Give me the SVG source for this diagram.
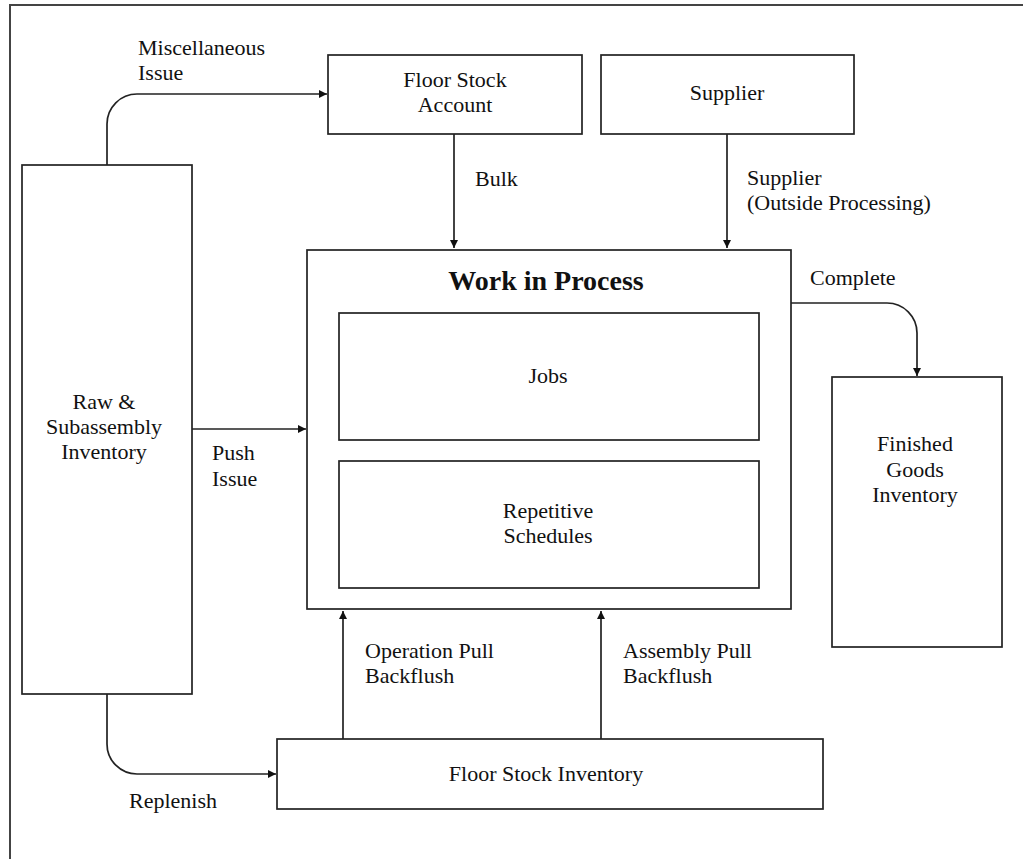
<svg xmlns="http://www.w3.org/2000/svg" width="1023" height="859" viewBox="0 0 1023 859">
<style>
.box{fill:#fff;stroke:#222;stroke-width:1.7}
.t{font-family:"Liberation Serif","Times New Roman",serif;font-size:22px;fill:#111}
.c{text-anchor:middle}
.b{font-weight:bold;font-size:28px}
.ln{fill:none;stroke:#222;stroke-width:1.7}
</style>
<defs>
<marker id="ah" markerUnits="userSpaceOnUse" markerWidth="9" markerHeight="9" refX="8" refY="4" orient="auto">
<path d="M0,0 L8,4 L0,8 z" fill="#111"/>
</marker>
</defs>
<rect x="0" y="0" width="1023" height="859" fill="#fff"/>
<rect x="10" y="5" width="1040" height="880" fill="none" stroke="#444" stroke-width="2"/>

<g id="floor-stock-account">
<rect class="box" x="328" y="55" width="254" height="79"/>
<text class="t c" x="455" y="87">Floor Stock</text>
<text class="t c" x="455" y="112">Account</text>
</g>
<g id="supplier">
<rect class="box" x="601" y="55" width="253" height="79"/>
<text class="t c" x="727" y="100">Supplier</text>
</g>
<g id="raw-subassembly">
<rect class="box" x="22" y="165" width="170" height="529"/>
<text class="t c" x="104" y="409">Raw &amp;</text>
<text class="t c" x="104" y="434">Subassembly</text>
<text class="t c" x="104" y="459">Inventory</text>
</g>
<g id="work-in-process">
<rect class="box" x="307" y="250" width="484" height="359"/>
<text class="t c b" x="546" y="290">Work in Process</text>
</g>
<g id="jobs">
<rect class="box" x="339" y="313" width="420" height="127"/>
<text class="t c" x="548" y="383">Jobs</text>
</g>
<g id="repetitive-schedules">
<rect class="box" x="339" y="461" width="420" height="127"/>
<text class="t c" x="548" y="518">Repetitive</text>
<text class="t c" x="548" y="543">Schedules</text>
</g>
<g id="finished-goods">
<rect class="box" x="832" y="377" width="170" height="270"/>
<text class="t c" x="915" y="451">Finished</text>
<text class="t c" x="915" y="477">Goods</text>
<text class="t c" x="915" y="502">Inventory</text>
</g>
<g id="floor-stock-inventory">
<rect class="box" x="277" y="739" width="546" height="70"/>
<text class="t c" x="546" y="781">Floor Stock Inventory</text>
</g>

<g id="connectors">
<path class="ln" marker-end="url(#ah)" d="M107,165 V124 A30,30 0 0 1 137,94 H327"/>
<path class="ln" marker-end="url(#ah)" d="M454,134 V248"/>
<path class="ln" marker-end="url(#ah)" d="M727,134 V248"/>
<path class="ln" marker-end="url(#ah)" d="M192,429 H306"/>
<path class="ln" marker-end="url(#ah)" d="M791,303 H887 A30,30 0 0 1 917,333 V376"/>
<path class="ln" marker-end="url(#ah)" d="M343,739 V611"/>
<path class="ln" marker-end="url(#ah)" d="M601,739 V611"/>
<path class="ln" marker-end="url(#ah)" d="M107,694 V744 A30,30 0 0 0 137,774 H276"/>
</g>

<g id="labels">
<text class="t" x="138" y="55">Miscellaneous</text>
<text class="t" x="138" y="80">Issue</text>
<text class="t" x="475" y="186">Bulk</text>
<text class="t" x="747" y="185">Supplier</text>
<text class="t" x="747" y="210">(Outside Processing)</text>
<text class="t" x="810" y="285">Complete</text>
<text class="t" x="212" y="460">Push</text>
<text class="t" x="212" y="486">Issue</text>
<text class="t" x="365" y="658">Operation Pull</text>
<text class="t" x="365" y="683">Backflush</text>
<text class="t" x="623" y="658">Assembly Pull</text>
<text class="t" x="623" y="683">Backflush</text>
<text class="t" x="129" y="808">Replenish</text>
</g>
</svg>
